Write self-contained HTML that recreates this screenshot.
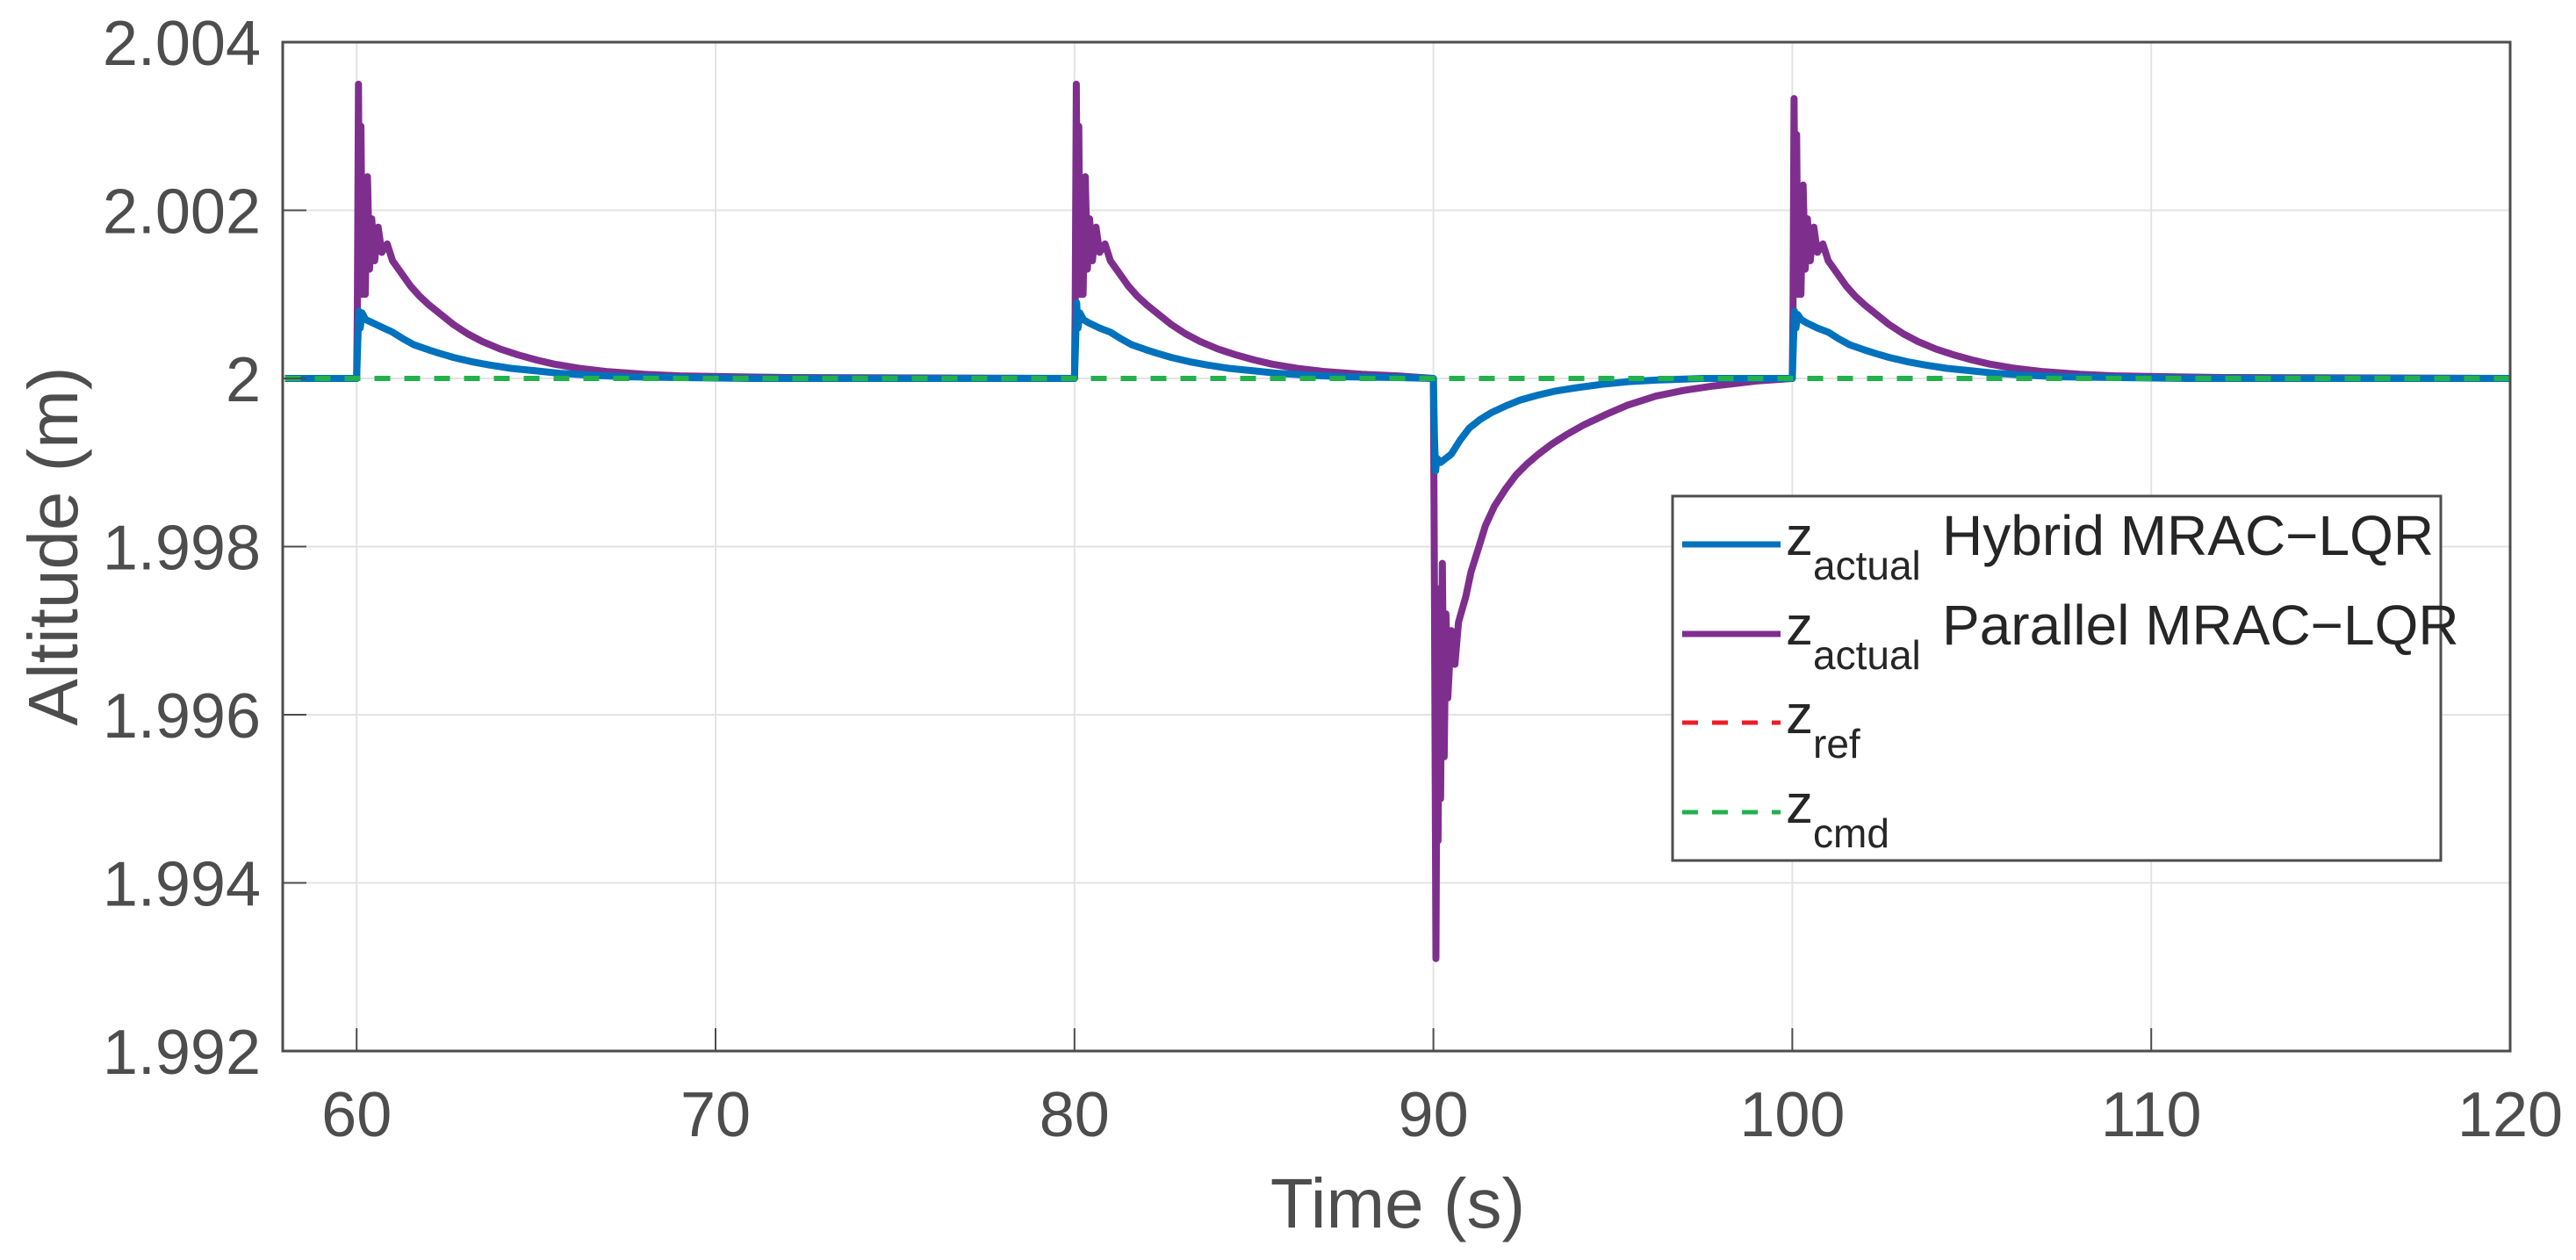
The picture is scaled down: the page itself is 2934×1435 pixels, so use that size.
<!DOCTYPE html>
<html><head><meta charset="utf-8"><style>
html,body{margin:0;padding:0;background:#fff}
svg{display:block}
</style></head><body>
<svg id="chart" width="2934" height="1435" viewBox="0 0 2934 1435" xmlns="http://www.w3.org/2000/svg" font-family="Liberation Sans, Arial, sans-serif">
<rect x="0" y="0" width="2934" height="1435" fill="#fff"/>
<g id="grid"></g>
<g id="series"></g>
<g id="axes"></g>
<text x="1592" y="1398" font-size="80" fill="#4d4d4d" text-anchor="middle">Time (s)</text>
<text transform="translate(88,622) rotate(-90)" font-size="80" fill="#4d4d4d" text-anchor="middle">Altitude (m)</text>
<g>
<rect x="1905" y="565" width="875" height="415" fill="#fff" stroke="#4d4d4d" stroke-width="3"/>
<g>
<line x1="1916" y1="620" x2="2028" y2="620" stroke="#0072BD" stroke-width="7"/>
<text x="2034" y="632" font-size="62" fill="#262626">z<tspan font-size="46" dy="28">actual</tspan><tspan dy="-28" x="2212" font-size="64">Hybrid MRAC−LQR</tspan></text>
</g>
<g>
<line x1="1916" y1="722" x2="2028" y2="722" stroke="#7E2F8E" stroke-width="7"/>
<text x="2034" y="734" font-size="62" fill="#262626">z<tspan font-size="46" dy="28">actual</tspan><tspan dy="-28" x="2212" font-size="64">Parallel MRAC−LQR</tspan></text>
</g>
<g>
<line x1="1916" y1="823" x2="2028" y2="823" stroke="#EE1C25" stroke-width="5" stroke-dasharray="18,16"/>
<text x="2034" y="835" font-size="62" fill="#262626">z<tspan font-size="46" dy="28">ref</tspan></text>
</g>
<g>
<line x1="1916" y1="925" x2="2028" y2="925" stroke="#22B14C" stroke-width="5" stroke-dasharray="18,16"/>
<text x="2034" y="937" font-size="62" fill="#262626">z<tspan font-size="46" dy="28">cmd</tspan></text>
</g>
</g>
</svg>
<script>
const xTicks = [60,70,80,90,100,110,120];
const yTicks = [1.992,1.994,1.996,1.998,2,2.002,2.004];
const yTickLabels = ["1.992","1.994","1.996","1.998","2","2.002","2.004"];
const refT = [58,120];
const refV = [2,2];
const cmdT = [58,120];
const cmdV = [2,2];
const hybT = [58,60,60.03,60.06,60.1,60.15,60.25,60.4,60.7,61,61.3,61.6,62,62.3,62.7,63.2,63.7,64.3,65,65.7,66.5,67.5,69,71,80,80.03,80.06,80.1,80.15,80.25,80.4,80.7,81,81.3,81.6,82,82.3,82.7,83.2,83.7,84.3,85,85.7,86.5,87.5,89,90,90.03,90.06,90.1,90.2,90.35,90.5,90.75,91,91.3,91.6,92,92.4,92.9,93.4,94,94.7,95.4,96.2,97.5,100,100.03,100.06,100.1,100.15,100.25,100.4,100.7,101,101.3,101.6,102,102.3,102.7,103.2,103.7,104.3,105,105.7,106.5,107.5,109,111,120];
const hybV = [2,2,2.0004,2.0008,2.0006,2.00078,2.0007,2.00067,2.00061,2.00055,2.00047,2.0004,2.00034,2.0003,2.00025,2.0002,2.00016,2.00012,2.00009,2.00006,2.00004,2.00002,2.00001,2,2,2.0004,2.0009,2.0006,2.00078,2.0007,2.00066,2.0006,2.00055,2.00047,2.0004,2.00034,2.0003,2.00025,2.0002,2.00016,2.00012,2.00009,2.00006,2.00004,2.00002,2.00001,2,1.9993,1.9989,1.99905,1.999,1.99905,1.9991,1.99927,1.99941,1.99951,1.99959,1.99967,1.99974,1.9998,1.99985,1.99989,1.99993,1.99996,1.99998,2,2,2.0004,2.0008,2.0006,2.00076,2.0007,2.00066,2.0006,2.00055,2.00047,2.0004,2.00034,2.0003,2.00025,2.0002,2.00016,2.00012,2.00009,2.00006,2.00004,2.00002,2.00001,2,2];
const parT = [58,60,60.02,60.05,60.08,60.12,60.16,60.2,60.24,60.3,60.36,60.42,60.5,60.6,60.7,60.85,61,61.25,61.5,61.75,62,62.35,62.7,63.1,63.5,64,64.5,65,65.5,66.2,67,68,69,70.5,72,80,80.02,80.05,80.08,80.12,80.16,80.2,80.24,80.3,80.36,80.42,80.5,80.6,80.7,80.85,81,81.25,81.5,81.75,82,82.35,82.7,83.1,83.5,84,84.5,85,85.5,86.2,87,88,89,90,90.03,90.07,90.1,90.13,90.17,90.2,90.25,90.3,90.35,90.4,90.5,90.6,90.7,90.9,91.05,91.27,91.45,91.7,92,92.3,92.6,92.9,93.3,93.7,94.2,94.8,95.4,96.2,97,97.8,99,100,100.02,100.05,100.08,100.12,100.16,100.2,100.24,100.3,100.36,100.42,100.5,100.6,100.7,100.85,101,101.25,101.5,101.75,102,102.35,102.7,103.1,103.5,104,104.5,105,105.5,106.2,107,108,109,110.5,112,120];
const parV = [2,2,2.0008,2.0035,2.0012,2.003,2.001,2.0022,2.001,2.0024,2.0013,2.0019,2.0014,2.0018,2.0015,2.0016,2.0014,2.00125,2.0011,2.00098,2.00088,2.00076,2.00064,2.00053,2.00044,2.00035,2.00028,2.00022,2.00017,2.00012,2.00008,2.00005,2.00003,2.00002,2.00001,2,2.0008,2.0035,2.0012,2.003,2.001,2.0022,2.001,2.0024,2.0013,2.0019,2.0014,2.0018,2.0015,2.0016,2.0014,2.00125,2.0011,2.00098,2.00088,2.00076,2.00064,2.00053,2.00044,2.00035,2.00028,2.00022,2.00017,2.00012,2.00008,2.00005,2.00003,2,1.9975,1.9931,1.996,1.9945,1.9975,1.995,1.9978,1.9955,1.9972,1.9962,1.997,1.9966,1.9971,1.9974,1.9977,1.998,1.99825,1.99848,1.99868,1.99885,1.99898,1.99909,1.99922,1.99933,1.99945,1.99957,1.99968,1.99979,1.99986,1.99991,1.99997,2,2.0008,2.00333,2.0012,2.0029,2.001,2.0022,2.001,2.0023,2.0013,2.0019,2.0014,2.0018,2.0015,2.0016,2.0014,2.00125,2.0011,2.00098,2.00088,2.00076,2.00064,2.00053,2.00044,2.00035,2.00028,2.00022,2.00017,2.00012,2.00008,2.00005,2.00003,2.00002,2.00001,2];

const L=322,R=2859,T=48,B=1197,X0=57.94,X1=120,Y0=1.992,Y1=2.004;
const NS='http://www.w3.org/2000/svg';
function sx(t){return L+(t-X0)/(X1-X0)*(R-L);}
function sy(v){return B-(v-Y0)/(Y1-Y0)*(B-T);}
function mk(tag,attrs,parent){const e=document.createElementNS(NS,tag);for(const k in attrs)e.setAttribute(k,attrs[k]);parent.appendChild(e);return e;}
const grid=document.getElementById('grid'),axes=document.getElementById('axes'),series=document.getElementById('series');
xTicks.forEach(t=>{
  const g=mk('line',{x1:sx(t),x2:sx(t),y1:T,y2:B,stroke:'#e3e3e3','stroke-width':2},grid);
  
  
  const tk=mk('line',{x1:sx(t),x2:sx(t),y1:B,y2:B-26,stroke:'#4d4d4d','stroke-width':2},axes);
  
  
  const tx=mk('text',{x:sx(t),y:1294,'font-size':72,fill:'#4d4d4d','text-anchor':'middle'},axes);
  tx.textContent=t;
  
  
});
yTicks.forEach((v,i)=>{
  const g=mk('line',{x1:L,x2:R,y1:sy(v),y2:sy(v),stroke:'#e3e3e3','stroke-width':2},grid);
  
  
  const tk=mk('line',{x1:L,x2:L+27,y1:sy(v),y2:sy(v),stroke:'#4d4d4d','stroke-width':2},axes);
  
  
  const tx=mk('text',{x:297,y:sy(v)+26,'font-size':72,fill:'#4d4d4d','text-anchor':'end'},axes);
  tx.textContent=yTickLabels[i];
  
  
});
const frame=mk('rect',{x:L,y:T,width:R-L,height:B-T,fill:'none',stroke:'#4d4d4d','stroke-width':3},axes);


function pts(ts,vs){return ts.map((t,i)=>sx(t).toFixed(1)+','+sy(vs[i]).toFixed(1)).join(' ');}
const p1=mk('polyline',{points:pts(parT,parV),fill:'none',stroke:'#7E2F8E','stroke-width':8,'stroke-linejoin':'round'},series);


const p2=mk('polyline',{points:pts(hybT,hybV),fill:'none',stroke:'#0072BD','stroke-width':8,'stroke-linejoin':'round'},series);


const p3=mk('polyline',{points:pts(refT,refV),fill:'none',stroke:'#EE1C25','stroke-width':6,'stroke-dasharray':'18,16'},series);


const p4=mk('polyline',{points:pts(cmdT,cmdV),fill:'none',stroke:'#22B14C','stroke-width':6,'stroke-dasharray':'18,16'},series);


</script>
</body></html>
